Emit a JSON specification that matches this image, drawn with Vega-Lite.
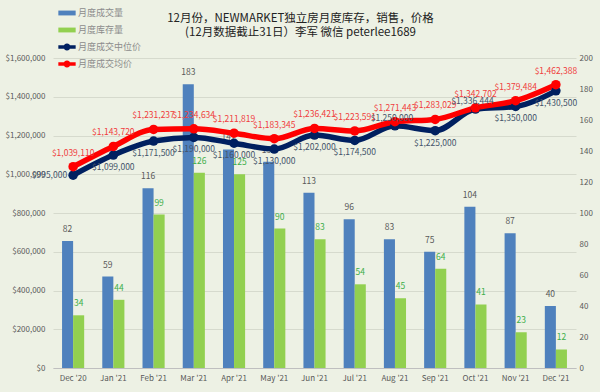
{
  "$schema": "https://vega.github.io/schema/vega-lite/v6.json",
  "autosize": {"type": "none"},
  "width": 523,
  "height": 310,
  "padding": {"left": 53, "top": 58, "right": 24, "bottom": 24},
  "background": "#EDF1E4",
  "title": {
    "text": ["12月份，NEWMARKET独立房月度库存，销售，价格", "(12月数据截止31日）李军  微信 peterlee1689"],
    "fontSize": 11.5,
    "fontWeight": "normal",
    "color": "#222222",
    "anchor": "middle",
    "dx": -14,
    "offset": -34,
    "lineHeight": 14,
    "font": "Noto Sans CJK SC"
  },
  "data": {
    "values": [
      {"month": "Dec '20", "sales": 82, "inv": 34, "median": 995000, "avg": 1039110},
      {"month": "Jan '21", "sales": 59, "inv": 44, "median": 1099000, "avg": 1143720},
      {"month": "Feb '21", "sales": 116, "inv": 99, "median": 1171500, "avg": 1231237},
      {"month": "Mar '21", "sales": 183, "inv": 126, "median": 1190000, "avg": 1234634},
      {"month": "Apr '21", "sales": 141, "inv": 125, "median": 1160000, "avg": 1211819},
      {"month": "May '21", "sales": 133, "inv": 90, "median": 1130000, "avg": 1183345},
      {"month": "Jun '21", "sales": 113, "inv": 83, "median": 1202000, "avg": 1236421},
      {"month": "Jul '21", "sales": 96, "inv": 54, "median": 1174500, "avg": 1223591},
      {"month": "Aug '21", "sales": 83, "inv": 45, "median": 1250000, "avg": 1271443},
      {"month": "Sep '21", "sales": 75, "inv": 64, "median": 1225000, "avg": 1283029},
      {"month": "Oct '21", "sales": 104, "inv": 41, "median": 1336444, "avg": 1342702},
      {"month": "Nov '21", "sales": 87, "inv": 23, "median": 1350000, "avg": 1379484},
      {"month": "Dec '21", "sales": 40, "inv": 12, "median": 1430500, "avg": 1462388}
    ]
  },
  "layer": [
    {
      "transform": [{"fold": ["sales", "inv"], "as": ["key", "value"]}],
      "encoding": {
        "x": {"field": "month", "type": "nominal", "sort": null, "title": null,
              "scale": {"paddingInner": 0.45, "paddingOuter": 0.225}},
        "xOffset": {"field": "key", "type": "nominal", "sort": ["sales", "inv"], "scale": {"domain": ["sales", "inv"]}},
        "y": {"field": "value", "type": "quantitative", "title": null,
              "scale": {"domain": [0, 200], "nice": false},
              "axis": {"orient": "right", "values": [0, 20, 40, 60, 80, 100, 120, 140, 160, 180, 200], "grid": false, "domain": false, "ticks": false, "labelPadding": 3, "labelOverlap": false}}
      },
      "layer": [
        {
          "mark": {"type": "bar"},
          "encoding": {
            "color": {"field": "key", "type": "nominal",
              "scale": {"domain": ["sales", "inv", "median", "avg"], "range": ["#4F81BD", "#92D050", "#002060", "#FF0000"]},
              "legend": {
                "orient": "none", "legendX": 5, "legendY": -54, "direction": "vertical", "title": null,
                "symbolSize": 300, "rowPadding": 3, "labelFontSize": 9, "labelColor": "#8C8C8C", "labelOffset": 2,
                "labelExpr": "datum.value === 'sales' ? '月度成交量' : datum.value === 'inv' ? '月度库存量' : datum.value === 'median' ? '月度成交中位价' : '月度成交均价'",
                "encode": {
                  "symbols": {
                    "update": {
                      "shape": {"signal": "(datum.value === 'sales' || datum.value === 'inv') ? 'M-1,-0.28H1V0.28H-1Z' : 'M-1,-0.2H1V0.2H-1Z M0.4,0A0.4,0.4 0 1,1 -0.4,0A0.4,0.4 0 1,1 0.4,0Z'"},
                      "fill": {"signal": "scale('color', datum.value)"},
                      "strokeWidth": {"value": 0},
                      "opacity": {"value": 1}
                    }
                  }
                }
              }
            }
          }
        },
        {
          "mark": {"type": "text", "dy": -7, "fontSize": 8.5, "baseline": "bottom"},
          "encoding": {
            "text": {"field": "value", "type": "quantitative"},
            "color": {"condition": {"test": "datum.key === 'inv'", "value": "#3DAE49"}, "value": "#595959"}
          }
        }
      ]
    },
    {
      "layer": [
        {
          "transform": [{"fold": ["median", "avg"], "as": ["key", "value"]}],
          "mark": {"type": "line", "interpolate": "monotone", "strokeWidth": 5.5, "point": {"filled": true, "size": 90, "opacity": 1}},
          "encoding": {
            "x": {"field": "month", "type": "nominal", "sort": null, "title": null},
            "y": {"field": "value", "type": "quantitative", "title": null,
                  "scale": {"domain": [0, 1600000], "nice": false},
                  "axis": {"orient": "left", "values": [0, 200000, 400000, 600000, 800000, 1000000, 1200000, 1400000, 1600000], "format": "$,.0f", "grid": true, "domain": false, "ticks": false, "labelPadding": 8, "labelOverlap": false}},
            "color": {"field": "key", "type": "nominal"}
          }
        },
        {
          "mark": {"type": "text", "dy": -9, "fontSize": 8.5, "baseline": "bottom", "color": "#F03C3C"},
          "encoding": {
            "x": {"field": "month", "type": "nominal", "sort": null, "title": null},
            "y": {"field": "avg", "type": "quantitative", "title": null, "scale": {"domain": [0, 1600000], "nice": false}, "axis": {"orient": "left", "values": [0, 200000, 400000, 600000, 800000, 1000000, 1200000, 1400000, 1600000], "format": "$,.0f", "grid": true, "domain": false, "ticks": false, "labelPadding": 8, "labelOverlap": false}},
            "text": {"field": "avg", "type": "quantitative", "format": "$,.0f"}
          }
        },
        {
          "transform": [{"filter": "datum.month !== \"Dec '20\" && datum.month !== \"Aug '21\" && datum.month !== \"Oct '21\""}],
          "mark": {"type": "text", "dy": 8, "fontSize": 8.5, "baseline": "top", "color": "#44546A"},
          "encoding": {
            "x": {"field": "month", "type": "nominal", "sort": null, "title": null},
            "y": {"field": "median", "type": "quantitative", "title": null, "scale": {"domain": [0, 1600000], "nice": false}, "axis": {"orient": "left", "values": [0, 200000, 400000, 600000, 800000, 1000000, 1200000, 1400000, 1600000], "format": "$,.0f", "grid": true, "domain": false, "ticks": false, "labelPadding": 8, "labelOverlap": false}},
            "text": {"field": "median", "type": "quantitative", "format": "$,.0f"}
          }
        },
        {
          "transform": [{"filter": "datum.month === \"Dec '20\""}],
          "mark": {"type": "text", "dx": -6, "align": "right", "baseline": "middle", "fontSize": 8.5, "color": "#44546A"},
          "encoding": {
            "x": {"field": "month", "type": "nominal", "sort": null, "title": null},
            "y": {"field": "median", "type": "quantitative", "title": null, "scale": {"domain": [0, 1600000], "nice": false}, "axis": {"orient": "left", "values": [0, 200000, 400000, 600000, 800000, 1000000, 1200000, 1400000, 1600000], "format": "$,.0f", "grid": true, "domain": false, "ticks": false, "labelPadding": 8, "labelOverlap": false}},
            "text": {"field": "median", "type": "quantitative", "format": "$,.0f"}
          }
        },
        {
          "transform": [{"filter": "datum.month === \"Aug '21\" || datum.month === \"Oct '21\""}],
          "mark": {"type": "text", "dy": -3, "dx": -3, "baseline": "bottom", "fontSize": 8.5, "color": "#44546A"},
          "encoding": {
            "x": {"field": "month", "type": "nominal", "sort": null, "title": null},
            "y": {"field": "median", "type": "quantitative", "title": null, "scale": {"domain": [0, 1600000], "nice": false}, "axis": {"orient": "left", "values": [0, 200000, 400000, 600000, 800000, 1000000, 1200000, 1400000, 1600000], "format": "$,.0f", "grid": true, "domain": false, "ticks": false, "labelPadding": 8, "labelOverlap": false}},
            "text": {"field": "median", "type": "quantitative", "format": "$,.0f"}
          }
        }
      ]
    }
  ],
  "resolve": {"scale": {"y": "independent"}},
  "config": {
    "font": "Noto Sans CJK SC",
    "view": {"stroke": null},
    "axis": {"labelFontSize": 8, "labelColor": "#595959", "gridColor": "#D6DACD", "gridWidth": 1, "labelFont": "Noto Sans CJK SC", "labelOverlap": false},
    "axisX": {"labelAngle": 0, "ticks": false, "domainColor": "#BFBFBF", "labelPadding": 6},
    "legend": {"labelFont": "Noto Sans CJK SC"}
  }
}
